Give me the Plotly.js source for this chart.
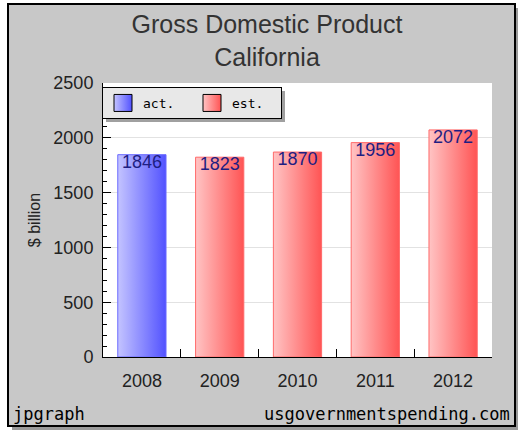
<!DOCTYPE html>
<html>
<head>
<meta charset="utf-8">
<script src="https://cdn.plot.ly/plotly-3.0.1.min.js"></script>
<style>
html,body{margin:0;padding:0;background:#fff;}
#chart{width:518px;height:430px;}
</style>
</head>
<body>
<div id="chart"></div>
<script>
// ---- data ----
const years = ['2008', '2009', '2010', '2011', '2012'];
const actYears = ['2008'];
const actValues = [1846];
const estYears = ['2009', '2010', '2011', '2012'];
const estValues = [1823, 1870, 1956, 2072];
const seriesNames = ['act.', 'est.'];
const chartTitle = 'Gross Domestic Product<br>California';
const yTitle = '$ billion';
const footLeft = 'jpgraph';
const footRight = 'usgovernmentspending.com';

// ---- layout helpers (pixel -> paper) ----
const W = 518, H = 430;
const M = {l: 103, r: 26, t: 83, b: 73};
const PW = W - M.l - M.r, PH = H - M.t - M.b;
const px = x => (x - M.l) / PW;
const py = y => (H - M.b - y) / PH;

const barText = {family: 'Liberation Sans, Arial, sans-serif', size: 18, color: '#1e1e82'};

const traces = [
  {
    type: 'bar', name: seriesNames[0], x: actYears, y: actValues,
    marker: {color: '#8080ff', line: {color: '#6a6aff', width: 1}},
    texttemplate: '%{y}', textposition: 'inside', insidetextanchor: 'end',
    textfont: barText, constraintext: 'none', cliponaxis: false, hoverinfo: 'none'
  },
  {
    type: 'bar', name: seriesNames[1], x: estYears, y: estValues,
    marker: {color: '#ff8080', line: {color: '#ff6a6a', width: 1}},
    texttemplate: '%{y}', textposition: 'inside', insidetextanchor: 'end',
    textfont: barText, constraintext: 'none', cliponaxis: false, hoverinfo: 'none'
  }
];

const layout = {
  width: W, height: H,
  margin: M,
  paper_bgcolor: '#ffffff',
  plot_bgcolor: '#ffffff',
  barmode: 'overlay',
  bargap: 0.38,
  showlegend: true,
  font: {family: 'Liberation Sans, Arial, sans-serif', color: '#222'},
  title: {
    text: chartTitle,
    font: {family: 'Liberation Sans, Arial, sans-serif', size: 25, color: '#333'},
    xref: 'container', x: 267 / W, xanchor: 'center',
    yref: 'container', y: 1 - 33 / H, yanchor: 'top'
  },
  legend: {
    orientation: 'h', x: px(102), xanchor: 'left', y: py(87), yanchor: 'top',
    bgcolor: '#e8e8e8', bordercolor: '#000', borderwidth: 1,
    entrywidth: 44, entrywidthmode: 'pixels',
    font: {family: 'DejaVu Sans Mono, monospace', size: 13, color: '#000'},
    itemclick: false, itemdoubleclick: false
  },
  xaxis: {
    type: 'category', categoryorder: 'array', categoryarray: years,
    range: [-0.5, years.length - 0.5],
    showline: true, linecolor: '#000', linewidth: 1,
    ticks: 'inside', tickson: 'boundaries', ticklen: 8, tickcolor: '#000',
    tickfont: {size: 18, color: '#222'}, ticklabelstandoff: 7,
    showgrid: false, zeroline: false, fixedrange: true
  },
  yaxis: {
    range: [0, 2500], dtick: 500, tick0: 0,
    showline: true, linecolor: '#000', linewidth: 1,
    ticks: 'inside', ticklen: 8, tickcolor: '#000',
    minor: {dtick: 100, ticks: 'inside', ticklen: 4, tickcolor: '#000', showgrid: false},
    tickfont: {size: 18, color: '#222'}, ticklabelstandoff: 5,
    showgrid: true, gridcolor: '#e2e2e2', gridwidth: 1,
    zeroline: false, fixedrange: true,
    title: {text: yTitle, font: {size: 16, color: '#222'}, standoff: 8}
  },
  shapes: [
    // panel shadow
    {type: 'rect', xref: 'paper', yref: 'paper', layer: 'below',
     x0: px(12), x1: px(518), y0: py(8), y1: py(430),
     fillcolor: '#9a9a9a', line: {width: 0}},
    // gray panel
    {type: 'rect', xref: 'paper', yref: 'paper', layer: 'below',
     x0: px(8), x1: px(515), y0: py(4), y1: py(426),
     fillcolor: '#c8c8c8', line: {color: '#000', width: 2}},
    // white plot area
    {type: 'rect', xref: 'paper', yref: 'paper', layer: 'below',
     x0: 0, x1: 1, y0: 0, y1: 1,
     fillcolor: '#ffffff', line: {width: 0}}
  ],
  annotations: [
    {text: footLeft, xref: 'paper', yref: 'paper', x: px(11), y: py(414),
     xanchor: 'left', yanchor: 'middle', showarrow: false,
     font: {family: 'DejaVu Sans Mono, monospace', size: 17, color: '#000'}},
    {text: footRight, xref: 'paper', yref: 'paper', x: px(512), y: py(414),
     xanchor: 'right', yanchor: 'middle', showarrow: false,
     font: {family: 'DejaVu Sans Mono, monospace', size: 17, color: '#000'}}
  ]
};

Plotly.newPlot('chart', traces, layout, {displayModeBar: false, staticPlot: true}).then(gd => {
  const svg = gd.querySelector('.main-svg');
  const defs = svg.querySelector('defs');
  const NS = 'http://www.w3.org/2000/svg';
  function grad(id, c0, c1) {
    const g = document.createElementNS(NS, 'linearGradient');
    g.setAttribute('id', id);
    g.setAttribute('x1', '0'); g.setAttribute('y1', '0');
    g.setAttribute('x2', '1'); g.setAttribute('y2', '0');
    [[0, c0], [1, c1]].forEach(([o, c]) => {
      const s = document.createElementNS(NS, 'stop');
      s.setAttribute('offset', o);
      s.setAttribute('stop-color', c);
      g.appendChild(s);
    });
    defs.appendChild(g);
  }
  grad('gradAct', '#c4c4ff', '#5252ff');
  grad('gradEst', '#ffc4c4', '#ff5454');
  const ids = ['gradAct', 'gradEst'];
  gd.querySelectorAll('.barlayer .trace').forEach((t, i) => {
    t.querySelectorAll('.point path').forEach(p => { p.style.fill = 'url(#' + ids[i] + ')'; });
    t.querySelectorAll('text.bartext').forEach(tx => {
      const y = parseFloat(tx.getAttribute('y') || '0');
      tx.setAttribute('y', y - 6);
    });
  });
  gd.querySelectorAll('.legend .traces').forEach((t, i) => {
    t.querySelectorAll('.legendpoints path').forEach(p => {
      p.setAttribute('d', 'M9,8.5H-9V-8.5H9Z');
      p.style.fill = 'url(#' + ids[i] + ')';
      p.style.stroke = '#000';
      p.style.strokeWidth = '1px';
    });
  });
  // legend drop shadow
  const bg = gd.querySelector('.legend rect.bg');
  if (bg) {
    const sh = bg.cloneNode(false);
    sh.classList.remove('bg');
    sh.setAttribute('x', (parseFloat(bg.getAttribute('x') || 0) + 3));
    sh.setAttribute('y', (parseFloat(bg.getAttribute('y') || 0) + 3));
    sh.style.fill = '#a0a0a0';
    sh.style.stroke = 'none';
    bg.parentNode.insertBefore(sh, bg);
  }
});
</script>
</body>
</html>
